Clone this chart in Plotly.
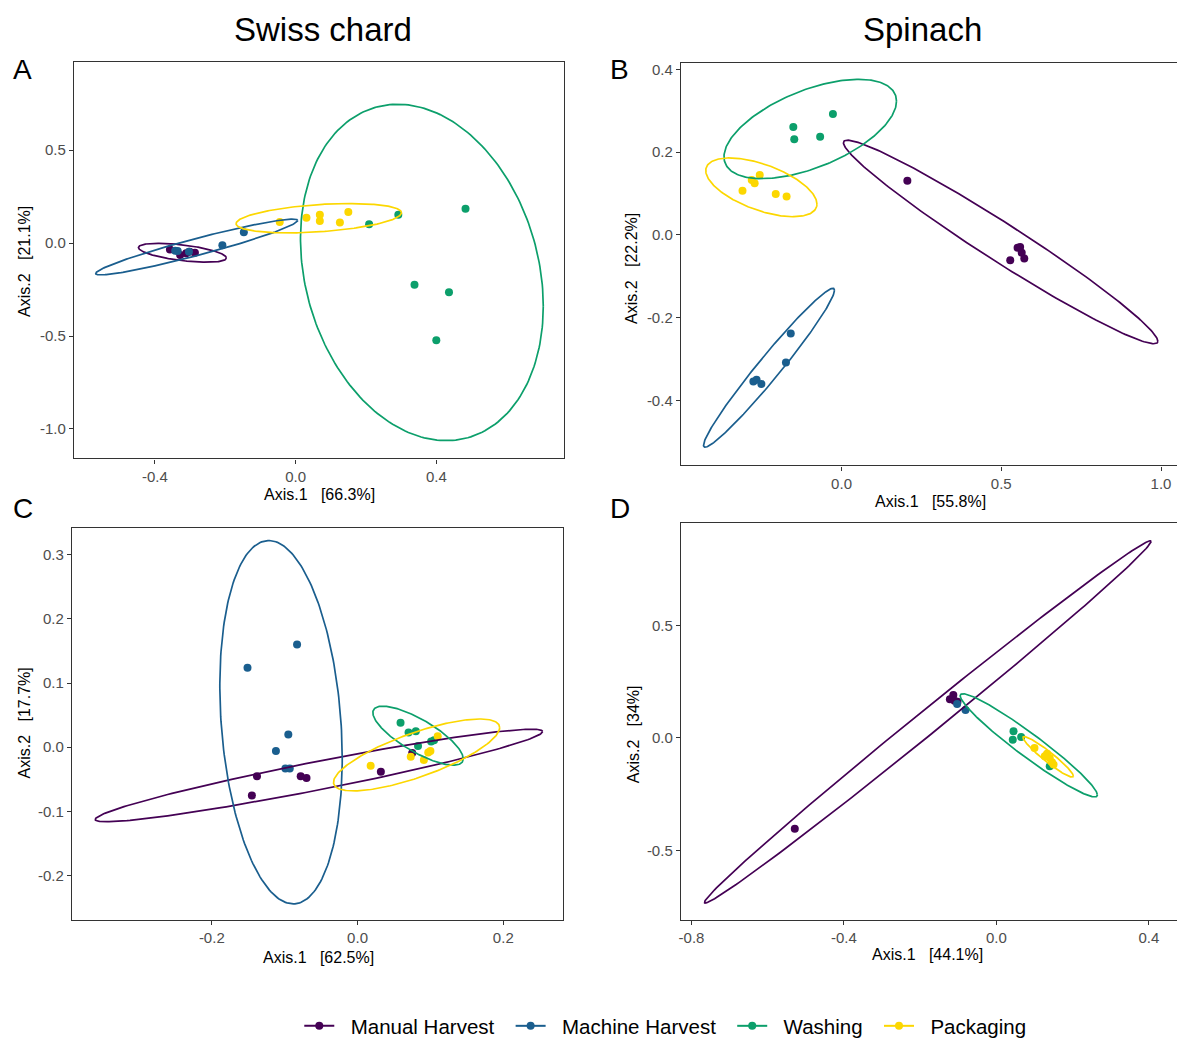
import numpy as np
import plotly.graph_objects as go

# ---------------------------------------------------------------- data
groups = ["Manual Harvest", "Machine Harvest", "Washing", "Packaging"]
colors = ["#440154", "#1a5e8e", "#0c9f6b", "#fcd700"]

# PCoA coordinates (Axis.1, Axis.2), one list per group
swiss_a_x = [[-0.357, -0.328, -0.311, -0.301, -0.286],
             [-0.342, -0.335, -0.303, -0.208, -0.147],
             [0.209, 0.292, 0.483, 0.338, 0.436, 0.400],
             [-0.045, 0.031, 0.069, 0.069, 0.126, 0.150]]
swiss_a_y = [[-0.034, -0.064, -0.055, -0.046, -0.052],
             [-0.041, -0.043, -0.046, -0.012, 0.059],
             [0.101, 0.152, 0.185, -0.224, -0.265, -0.523],
             [0.114, 0.137, 0.153, 0.119, 0.111, 0.167]]

spinach_b_x = [[0.206, 0.528, 0.551, 0.559, 0.564, 0.572],
               [-0.159, -0.174, -0.276, -0.266, -0.251],
               [-0.027, -0.151, -0.148, -0.067],
               [-0.256, -0.281, -0.272, -0.310, -0.206, -0.172]]
spinach_b_y = [[0.131, -0.061, -0.031, -0.029, -0.043, -0.057],
               [-0.238, -0.308, -0.354, -0.350, -0.360],
               [0.292, 0.261, 0.231, 0.237],
               [0.145, 0.133, 0.125, 0.107, 0.099, 0.093]]

swiss_c_x = [[-0.138, -0.145, -0.078, -0.070, 0.032, 0.075],
             [-0.083, -0.151, -0.095, -0.112, -0.099, -0.093],
             [0.059, 0.070, 0.080, 0.083, 0.101, 0.105],
             [0.018, 0.073, 0.091, 0.097, 0.100, 0.110]]
swiss_c_y = [[-0.045, -0.075, -0.045, -0.048, -0.038, -0.009],
             [0.160, 0.124, 0.020, -0.006, -0.033, -0.033],
             [0.038, 0.023, 0.025, 0.002, 0.009, 0.011],
             [-0.029, -0.015, -0.020, -0.008, -0.006, 0.017]]

spinach_d_x = [[-0.113, -0.122, -0.110, -0.102, -0.529],
               [-0.103, -0.081],
               [0.045, 0.043, 0.065, 0.140],
               [0.100, 0.133, 0.140, 0.146, 0.150, 0.127]]
spinach_d_y = [[0.190, 0.171, 0.165, 0.161, -0.403],
               [0.151, 0.124],
               [0.029, -0.008, 0.004, -0.126],
               [-0.045, -0.070, -0.089, -0.108, -0.118, -0.082]]

# 95% ellipses: centre x, centre y, half-width, half-height, tilt (cos of phase)
ell_a = [[-0.3215, -0.052, 0.125, 0.051, -0.55],
         [-0.281, -0.021, 0.287, 0.150, 0.95],
         [0.359, -0.158, 0.345, 0.905, -0.20],
         [0.066, 0.134, 0.235, 0.079, 0.37]]
ell_b = [[0.498, -0.017, 0.492, 0.246, -0.975],
         [-0.227, -0.321, 0.205, 0.192, 0.975],
         [-0.098, 0.256, 0.270, 0.120, 0.56],
         [-0.251, 0.115, 0.174, 0.071, -0.57]]
ell_c = [[-0.053, -0.044, 0.307, 0.072, 0.95],
         [-0.105, 0.039, 0.084, 0.283, -0.20],
         [0.083, 0.018, 0.062, 0.046, -0.78],
         [0.081, -0.012, 0.114, 0.056, 0.76]]
ell_d = [[-0.180, 0.071, 0.586, 0.804, 0.9966],
         [None] * 5,
         [0.085, -0.033, 0.180, 0.229, -0.96],
         [0.136, -0.084, 0.066, 0.090, -0.95]]

axis1_pct = ["66.3%", "55.8%", "62.5%", "44.1%"]
axis2_pct = ["21.1%", "22.2%", "17.7%", "34%"]

x_ticks = [[-0.4, 0.0, 0.4], [0.0, 0.5, 1.0], [-0.2, 0.0, 0.2], [-0.8, -0.4, 0.0, 0.4]]
y_ticks = [[-1.0, -0.5, 0.0, 0.5], [-0.4, -0.2, 0.0, 0.2, 0.4],
           [-0.2, -0.1, 0.0, 0.1, 0.2, 0.3], [-0.5, 0.0, 0.5]]
x_ranges = [[-0.630, 0.763], [-0.503, 1.050], [-0.392, 0.282], [-0.828, 0.474]]
y_ranges = [[-1.159, 0.977], [-0.557, 0.4166], [-0.269, 0.3416], [-0.808, 0.954]]

panel_letters = ["A", "B", "C", "D"]
column_titles = ["Swiss chard", "Spinach"]

# ---------------------------------------------------------------- layout geometry
W_PX, H_PX = 1177, 1046
FONT = "Liberation Sans, Arial, sans-serif"
NBSP = "\u00a0"


def px_x(p):
    return p / W_PX


def px_y(p):
    return 1 - p / H_PX


# plot frames in pixels: left, right, top, bottom
frames = [(72, 563, 60, 460), (680, 1177, 61, 467), (70, 562, 530, 925), (680, 1177, 525, 925)]


def ellipse(cx, cy, w, h, r, n=240):
    t = np.linspace(0, 2 * np.pi, n)
    phi = np.arccos(r)
    return cx + w * np.cos(t), cy + h * np.cos(t - phi)


def tick_labels(vals):
    # plain hyphen-minus, one decimal
    return [f"{v:.1f}" for v in vals]


fig = go.Figure()

panels = [(swiss_a_x, swiss_a_y, ell_a), (spinach_b_x, spinach_b_y, ell_b),
          (swiss_c_x, swiss_c_y, ell_c), (spinach_d_x, spinach_d_y, ell_d)]

for k, (px_, py_, ells) in enumerate(panels):
    xa = "x" if k == 0 else f"x{k + 1}"
    ya = "y" if k == 0 else f"y{k + 1}"
    for g, name in enumerate(groups):
        fig.add_trace(go.Scatter(
            x=px_[g], y=py_[g], mode="markers", xaxis=xa, yaxis=ya,
            marker=dict(color=colors[g], size=8, line=dict(width=0)),
            name=name, showlegend=False, hoverinfo="x+y+name"))
    for g, name in enumerate(groups):
        if ells[g][0] is None:
            continue
        ex, ey = ellipse(*ells[g])
        fig.add_trace(go.Scatter(
            x=ex, y=ey, mode="lines", xaxis=xa, yaxis=ya,
            line=dict(color=colors[g], width=1.7),
            name=name, showlegend=False, hoverinfo="skip"))

# legend entries (padded for the wider spacing between key and label)
for g, name in enumerate(groups):
    fig.add_trace(go.Scatter(
        x=[None], y=[None], mode="lines+markers", name=NBSP * 2 + name + NBSP * 2,
        line=dict(color=colors[g], width=2), marker=dict(color=colors[g], size=8)))

layout = dict(
    width=W_PX, height=H_PX,
    margin=dict(l=0, r=0, t=0, b=0),
    paper_bgcolor="white", plot_bgcolor="white",
    font=dict(family=FONT, color="black"),
    legend=dict(orientation="h", x=0.5696, xanchor="center", y=px_y(1032), yanchor="middle",
                font=dict(size=20.5, color="black"), itemwidth=30,
                traceorder="normal"),
    showlegend=True,
)

for k in range(4):
    l, r, t, b = frames[k]
    suffix = "" if k == 0 else str(k + 1)
    right_cut = k in (1, 3)
    layout["xaxis" + suffix] = dict(
        domain=[px_x(l), min(1.0, px_x(r))], anchor="y" + suffix,
        range=x_ranges[k], tickvals=x_ticks[k], ticktext=tick_labels(x_ticks[k]),
        showgrid=False, zeroline=False, showline=True, linecolor="#333333", linewidth=1.2,
        mirror=True, ticks="outside", ticklen=4, tickcolor="#333333",
        tickfont=dict(size=15, color="#4d4d4d", family=FONT))
    layout["yaxis" + suffix] = dict(
        domain=[px_y(b), px_y(t)], anchor="x" + suffix,
        range=y_ranges[k], tickvals=y_ticks[k], ticktext=tick_labels(y_ticks[k]),
        showgrid=False, zeroline=False, showline=True, linecolor="#333333", linewidth=1.2,
        mirror=not right_cut, ticks="outside", ticklen=4, tickcolor="#333333",
        tickfont=dict(size=15, color="#4d4d4d", family=FONT))

annotations = []
# column titles
for txt, cx in zip(column_titles, [322, 922]):
    annotations.append(dict(text=txt, x=px_x(cx), y=px_y(28), xref="paper", yref="paper",
                            showarrow=False, font=dict(size=33, color="black"),
                            xanchor="center", yanchor="middle"))
# panel letters
for txt, (lx, ly) in zip(panel_letters, [(21, 68), (619, 68), (21, 510), (619, 510)]):
    annotations.append(dict(text=txt, x=px_x(lx), y=px_y(ly), xref="paper", yref="paper",
                            showarrow=False, font=dict(size=28, color="black"),
                            xanchor="center", yanchor="middle"))
# axis titles
gap = NBSP * 3
xt_pos = [(318, 496), (930, 503), (317, 963), (927, 960)]
yt_pos = [(22, 261), (631, 268), (22, 726), (632, 738)]
for k in range(4):
    annotations.append(dict(text=f"Axis.1{gap}[{axis1_pct[k]}]", x=px_x(xt_pos[k][0]),
                            y=px_y(xt_pos[k][1]), xref="paper", yref="paper", showarrow=False,
                            font=dict(size=16, color="black"), xanchor="center", yanchor="middle"))
    annotations.append(dict(text=f"Axis.2{gap}[{axis2_pct[k]}]", x=px_x(yt_pos[k][0]),
                            y=px_y(yt_pos[k][1]), xref="paper", yref="paper", showarrow=False,
                            textangle=-90, font=dict(size=16, color="black"),
                            xanchor="center", yanchor="middle"))
layout["annotations"] = annotations

fig.update_layout(**layout)
fig.write_html("out.html")
